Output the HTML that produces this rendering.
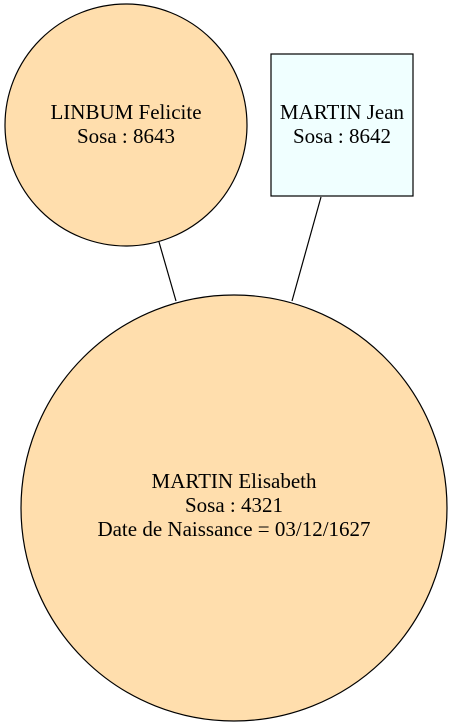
<!DOCTYPE html>
<html>
<head>
<meta charset="utf-8">
<style>
  html,body{margin:0;padding:0;background:#fff;}
  svg{display:block;}
  text{font-family:"Liberation Serif","Times New Roman",serif;font-size:21px;fill:#000;}
</style>
</head>
<body>
<svg width="451" height="724" viewBox="0 0 451 724">
  <line x1="159" y1="242" x2="176" y2="301" stroke="#000" stroke-width="1.2"/>
  <line x1="321" y1="197" x2="292" y2="301" stroke="#000" stroke-width="1.2"/>

  <g>
    <circle cx="126" cy="125" r="121" fill="#FFDEAD" stroke="#000" stroke-width="1.2"/>
    <text x="126" y="119" text-anchor="middle">LINBUM Felicite</text>
    <text x="126" y="143" text-anchor="middle">Sosa : 8643</text>
  </g>

  <g>
    <rect x="271" y="54" width="142" height="142" fill="#F0FFFF" stroke="#000" stroke-width="1.2"/>
    <text x="342" y="119" text-anchor="middle">MARTIN Jean</text>
    <text x="342" y="143" text-anchor="middle">Sosa : 8642</text>
  </g>

  <g>
    <circle cx="234" cy="508" r="213" fill="#FFDEAD" stroke="#000" stroke-width="1.2"/>
    <text x="234" y="488" text-anchor="middle">MARTIN Elisabeth</text>
    <text x="234" y="512" text-anchor="middle">Sosa : 4321</text>
    <text x="234" y="536" text-anchor="middle">Date de Naissance = 03/12/1627</text>
  </g>
</svg>
</body>
</html>
